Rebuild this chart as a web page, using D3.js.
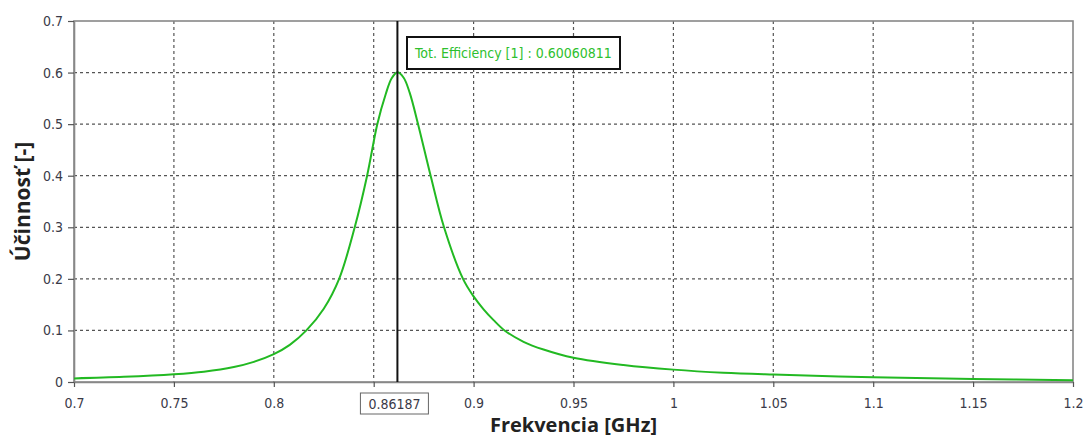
<!DOCTYPE html>
<html>
<head>
<meta charset="utf-8">
<script src="https://cdn.jsdelivr.net/npm/d3@7/dist/d3.min.js"></script>
<style>
  body { margin: 0; background: #fff; }
  svg { display: block; }
</style>
</head>
<body>
<div id="chart"></div>
<script>
// frequency [GHz] and total efficiency
const freq = [0.70, 0.725, 0.75, 0.765, 0.78, 0.79, 0.80, 0.808, 0.8163, 0.825, 0.8327, 0.8405, 0.8467,
    0.8518, 0.856, 0.859, 0.86187, 0.865, 0.868, 0.8722, 0.8785, 0.8852, 0.8947, 0.90, 0.905, 0.91,
    0.9155, 0.925, 0.935, 0.95, 0.975, 1.0, 1.025, 1.05, 1.1, 1.15, 1.2];
const efficiency = [0.007, 0.010, 0.015, 0.020, 0.029, 0.039, 0.054, 0.072, 0.100, 0.142, 0.20, 0.30, 0.40,
    0.50, 0.558, 0.589, 0.6006, 0.59, 0.561, 0.50, 0.40, 0.30, 0.20, 0.166, 0.141, 0.12,
    0.10, 0.078, 0.063, 0.047, 0.033, 0.024, 0.018, 0.0145, 0.0093, 0.006, 0.0035];

const xTicks = [0.7, 0.75, 0.8, 0.85, 0.9, 0.95, 1, 1.05, 1.1, 1.15, 1.2];
const yTicks = [0, 0.1, 0.2, 0.3, 0.4, 0.5, 0.6, 0.7];

const markerFreq = 0.86187;
const markerLabel = "Tot. Efficiency [1] : 0.60060811";

const width = 1086, height = 439;
const margin = { top: 21, right: 13, bottom: 57, left: 74 };

const svg = d3.select("#chart").append("svg")
    .attr("width", width)
    .attr("height", height);

const x = d3.scaleLinear().domain([0.7, 1.2]).range([margin.left, width - margin.right]);
const y = d3.scaleLinear().domain([0, 0.7]).range([height - margin.bottom, margin.top]);

const tickFont = "'DejaVu Sans Condensed', 'DejaVu Sans', sans-serif";

// dotted grid
svg.append("g")
    .selectAll("line")
    .data(xTicks.slice(1, -1))
    .join("line")
    .attr("x1", d => x(d)).attr("x2", d => x(d))
    .attr("y1", y(0.7)).attr("y2", y(0))
    .attr("stroke", "#555").attr("stroke-width", 1.2)
    .attr("stroke-dasharray", "3,3");

svg.append("g")
    .selectAll("line")
    .data(yTicks.slice(1, -1))
    .join("line")
    .attr("x1", x(0.7)).attr("x2", x(1.2))
    .attr("y1", d => y(d)).attr("y2", d => y(d))
    .attr("stroke", "#555").attr("stroke-width", 1.2)
    .attr("stroke-dasharray", "3,3");

// frame
svg.append("rect")
    .attr("x", x(0.7)).attr("y", y(0.7))
    .attr("width", x(1.2) - x(0.7))
    .attr("height", y(0) - y(0.7))
    .attr("fill", "none")
    .attr("stroke", "#888").attr("stroke-width", 1.6);

// axes
const xAxis = svg.append("g")
    .attr("transform", `translate(0,${y(0)})`)
    .call(d3.axisBottom(x).tickValues(xTicks).tickSize(5).tickSizeOuter(0).tickFormat(d3.format("")));
const yAxis = svg.append("g")
    .attr("transform", `translate(${x(0.7)},0)`)
    .call(d3.axisLeft(y).tickValues(yTicks).tickSize(6).tickSizeOuter(0).tickFormat(d => d === 0 ? "0" : d3.format(".1f")(d)));

[xAxis, yAxis].forEach(g => {
    g.select(".domain").attr("stroke", "#888").attr("stroke-width", 1.6);
    g.selectAll(".tick line").attr("stroke", "#555").attr("stroke-width", 1.2);
    g.selectAll(".tick text")
        .attr("fill", "#3a3a48")
        .style("font-family", tickFont)
        .style("font-size", "14px");
});
xAxis.selectAll(".tick text").attr("dy", "1.25em");
yAxis.selectAll(".tick text").attr("dx", "-2px");

// efficiency curve
const pts = freq.map((f, i) => [f, efficiency[i]]);
svg.append("path")
    .datum(pts)
    .attr("fill", "none")
    .attr("stroke", "#22b922")
    .attr("stroke-width", 2)
    .attr("d", d3.line().x(d => x(d[0])).y(d => y(d[1])).curve(d3.curveCatmullRom.alpha(0.5)));

// marker line
svg.append("line")
    .attr("x1", x(markerFreq)).attr("x2", x(markerFreq))
    .attr("y1", y(0.7)).attr("y2", y(0))
    .attr("stroke", "#111").attr("stroke-width", 2);

// marker value box on x axis (covers most of the 0.85 label, as in the original)
const mx = svg.append("g");
mx.append("rect")
    .attr("x", x(markerFreq) - 37).attr("y", 393)
    .attr("width", 68).attr("height", 21)
    .attr("fill", "#fff").attr("stroke", "#666").attr("stroke-width", 1);
mx.append("text")
    .attr("x", x(markerFreq) - 3).attr("y", 409)
    .attr("text-anchor", "middle")
    .attr("fill", "#3a3a48")
    .style("font-family", tickFont)
    .style("font-size", "14px")
    .text(markerFreq);

// annotation box
const ann = svg.append("g");
ann.append("rect")
    .attr("x", 407).attr("y", 37)
    .attr("width", 213).attr("height", 32)
    .attr("fill", "#fff").attr("stroke", "#111").attr("stroke-width", 2);
ann.append("text")
    .attr("x", 415).attr("y", 58)
    .attr("fill", "#2ec02e")
    .style("font-family", tickFont)
    .style("font-size", "14px")
    .text(markerLabel);

// axis titles
svg.append("text")
    .attr("x", x(0.95)).attr("y", 432)
    .attr("text-anchor", "middle")
    .attr("fill", "#222")
    .style("font-family", "'Open Sans', sans-serif")
    .style("font-weight", "bold")
    .style("font-size", "20px")
    .text("Frekvencia [GHz]");

svg.append("text")
    .attr("transform", `translate(30,${y(0.35)}) rotate(-90)`)
    .attr("text-anchor", "middle")
    .attr("fill", "#222")
    .style("font-family", "'Open Sans', sans-serif")
    .style("font-weight", "bold")
    .style("font-size", "21px")
    .text("Účinnosť [-]");
</script>
</body>
</html>
